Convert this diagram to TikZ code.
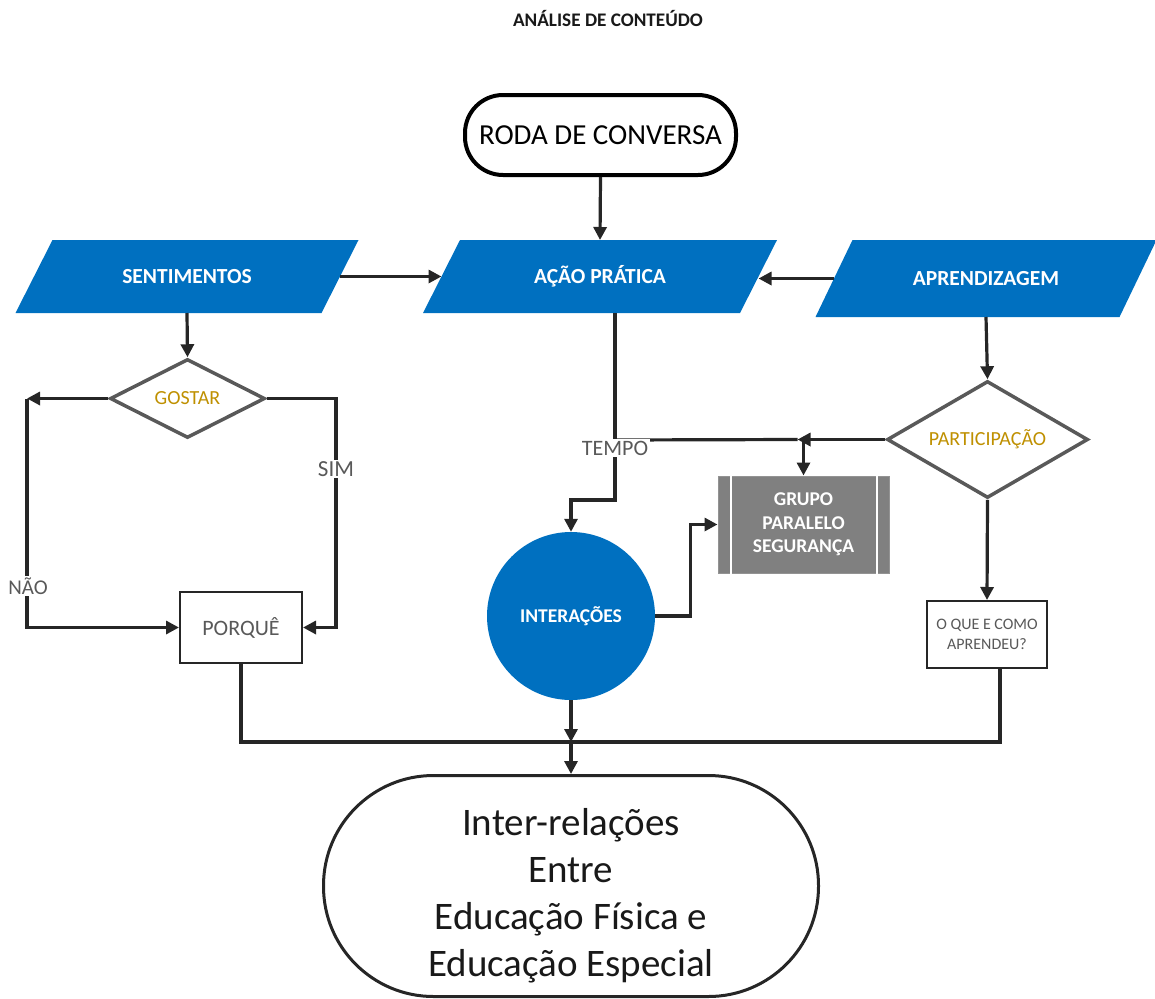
\documentclass[tikz,border=0pt]{standalone}
\usepackage{fontspec}
\setmainfont{Carlito}
\usetikzlibrary{arrows.meta,shapes.geometric,backgrounds,calc}
\definecolor{fblue}{HTML}{0070C0}
\definecolor{lc}{HTML}{262626}
\definecolor{tg}{HTML}{595959}
\definecolor{dg}{HTML}{595959}
\definecolor{gold}{HTML}{BF9000}
\definecolor{ggray}{HTML}{808080}
\tikzset{
  conn/.style={line width=3.2pt, draw=lc},
  arr/.style={conn, -{Triangle[length=13pt,width=13pt]}},
  para/.style={rectangle, minimum height=73pt, inner sep=0pt, outer sep=0pt, text=white, font=\bfseries\fontsize{21.5}{26}\selectfont},
  lbl/.style={fill=white, text=tg, font=\fontsize{21}{24}\selectfont, inner sep=1.5pt},
  dec/.style={diamond, draw=dg, line width=3.5pt, fill=white, inner sep=0pt, text=gold, font=\fontsize{20}{22}\selectfont},
  pbox/.style={rectangle, draw=black!85, line width=2pt, fill=white, inner sep=0pt, text=tg, align=center}
}
\begin{document}
\begin{tikzpicture}[x=1pt,y=-1pt]
\useasboundingbox (0,0) rectangle (1155,998);

\node[font=\bfseries\fontsize{19.2}{22}\selectfont, text=black!90] (title) at (608,19) {ANÁLISE DE CONTEÚDO};

\node[draw=black, line width=4pt, rounded corners=38pt, minimum width=271pt, minimum height=80pt, inner sep=0pt, font=\fontsize{29}{34}\selectfont] (roda) at (600.5,135) {RODA DE CONVERSA};

\node[para, minimum width=306pt] (sent) at (187,276.5) {SENTIMENTOS};
\node[para, minimum width=317pt] (acao) at (600,276.5) {AÇÃO PRÁTICA};
\node[para, minimum width=304pt, minimum height=77pt] (apr) at (986,278.5) {APRENDIZAGEM};
\begin{scope}[on background layer]
\foreach \n in {sent,acao,apr}
  \fill[fblue] ([xshift=18.5pt]\n.north west) -- ([xshift=18.5pt]\n.north east) -- ([xshift=-18.5pt]\n.south east) -- ([xshift=-18.5pt]\n.south west) -- cycle;
\end{scope}

\node[dec, aspect=2, minimum width=155pt, minimum height=79pt] (gostar) at (187.5,398.5) {GOSTAR};
\node[dec, aspect=1.72, minimum width=201pt, minimum height=117pt] (part) at (987.5,439.5) {PARTICIPAÇÃO};

\node[pbox, minimum width=122pt, minimum height=71pt, font=\fontsize{22}{26}\selectfont] (porque) at (241,627.5) {PORQUÊ};
\node[pbox, minimum width=120pt, minimum height=67pt, font=\fontsize{16}{19.5}\selectfont] (oque) at (987,634.5) {O QUE E COMO\\APRENDEU?};

\node[circle, fill=fblue, minimum size=168pt, inner sep=0pt, text=white, font=\bfseries\fontsize{19.5}{22}\selectfont] (inter) at (571,616) {INTERAÇÕES};

\node[rectangle, fill=ggray, draw=ggray!85!white, line width=1pt, minimum width=171pt, minimum height=97pt, inner sep=0pt, text=white, align=center, font=\bfseries\fontsize{19.5}{23.5}\selectfont] (grupo) at (803.5,524.5) {GRUPO\\PARALELO\\SEGURANÇA};
\draw[white, line width=2pt] ([xshift=13pt]grupo.north west) -- ([xshift=13pt]grupo.south west);
\draw[white, line width=2pt] ([xshift=-13pt]grupo.north east) -- ([xshift=-13pt]grupo.south east);

\node[draw=lc, line width=3pt, rounded corners=110pt, minimum width=495pt, minimum height=221pt, inner sep=0pt, align=center, font=\fontsize{39}{47}\selectfont, text=black!90] (fin) at (571,886) {\rule{0pt}{46pt}Inter-relações\\Entre\\Educação Física e\\Educação Especial};

% connectors
\draw[arr] (roda.south) -- (acao.north);
\draw[arr] (sent.east) -- (acao.west);
\draw[arr] (apr.west) -- (apr.west -| acao.east);
\draw[arr] (sent.south) -- (gostar.north);

\coordinate (cl) at (27,398.5);
\coordinate (cr) at (336,627.5);
\draw[arr] (gostar.west) -- (cl);
\draw[arr] (cl) |- (porque.west);
\draw[arr] (gostar.east) -| (cr) -- (porque.east);
\node[lbl] (nao) at (28,586) {NÃO};
\node[lbl, font=\fontsize{23}{26}\selectfont] (sim) at (336,469) {SIM};

\draw[arr] ([xshift=15pt]acao.south) -- ++(0,187) -| (inter.north);
\draw[arr] (apr.south) -- (part.north);
\draw[arr] (part.south) -- (oque.north);
\coordinate (tj) at (615,440);
\draw[arr] (part.west) -- ([xshift=-6pt]grupo.north |- part.west);
\draw[conn] ([xshift=-6pt]grupo.north |- part.west) -- (tj);
\draw[arr] (grupo.north |- part.west) -- (grupo.north);
\node[lbl, font=\fontsize{22}{24}\selectfont] (tempo) at (615,448) {TEMPO};

\draw[arr] (inter.east) -- ++(35,0) |- (grupo.west);

\coordinate (m) at (571,742);
\draw[conn] (porque.south) |- (m);
\draw[conn] ([xshift=13pt]oque.south) |- (m);
\draw[arr] (inter.south) -- (m);
\draw[arr] (m) -- (fin.north);
\end{tikzpicture}
\end{document}
